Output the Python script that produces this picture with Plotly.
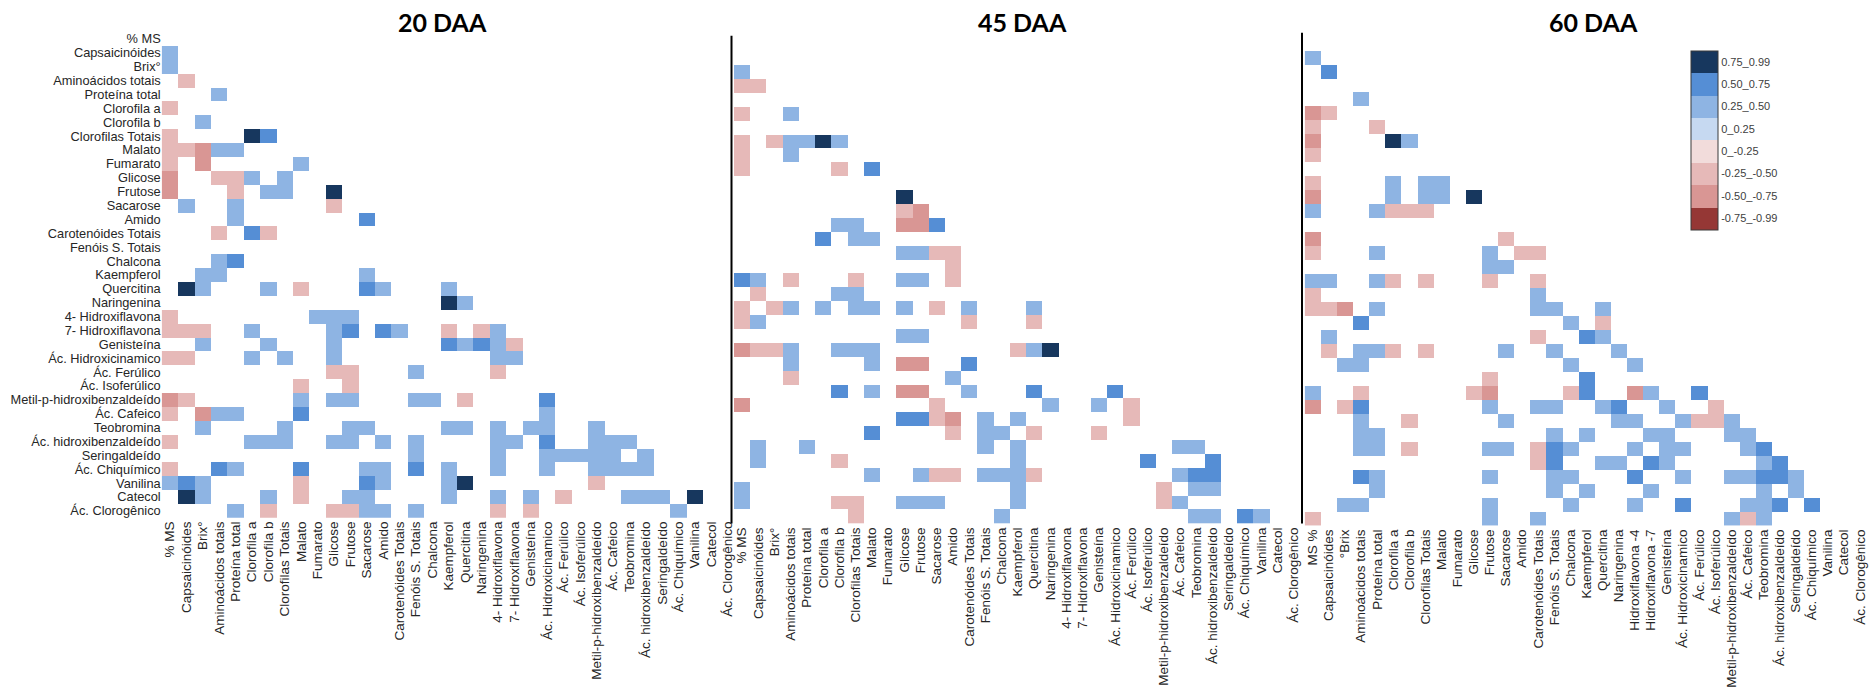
import plotly.graph_objects as go

# ---------------------------------------------------------------------------
# Variables (rows / columns of each lower-triangular correlation matrix)
# ---------------------------------------------------------------------------
variables = [
    "% MS", "Capsaicinóides", "Brix°", "Aminoácidos totais", "Proteína total",
    "Clorofila a", "Clorofila b", "Clorofilas Totais", "Malato", "Fumarato",
    "Glicose", "Frutose", "Sacarose", "Amido", "Carotenóides Totais",
    "Fenóis S. Totais", "Chalcona", "Kaempferol", "Quercitina", "Naringenina",
    "4- Hidroxiflavona", "7- Hidroxiflavona", "Genisteína", "Ác. Hidroxicinamico",
    "Ác. Ferúlico", "Ác. Isoferúlico", "Metil-p-hidroxibenzaldeído", "Ác. Cafeico",
    "Teobromina", "Ác. hidroxibenzaldeído", "Seringaldeído", "Ác. Chiquímico",
    "Vanilina", "Catecol", "Ác. Clorogênico",
]

variables_60 = [
    "MS %", "Capsaicinóides", "°Brix", "Aminoácidos totais", "Proteína total",
    "Clorofila a", "Clorofila b", "Clorofilas Totais", "Malato", "Fumarato",
    "Glicose", "Frutose", "Sacarose", "Amido", "Carotenóides Totais",
    "Fenóis S. Totais", "Chalcona", "Kaempferol", "Quercitina", "Naringenina",
    "Hidroxiflavona -4", "Hidroxiflavona -7", "Genisteína", "Ác. Hidroxicinamico",
    "Ác. Ferúlico", "Ác. Isoferúlico", "Metil-p-hidroxibenzaldeído", "Ác. Cafeico",
    "Teobromina", "Ác. hidroxibenzaldeído", "Seringaldeído", "Ác. Chiquímico",
    "Vanilina", "Catecol", "Ác. Clorogênico",
]

# Correlation class of each cell, row by row: "<column><class>"
#   N 0.75_0.99   B 0.50_0.75   b 0.25_0.50
#   p -0.25_-0.50 P -0.50_-0.75 R -0.75_-0.99
corr_20daa = [
    "", "0b", "0b", "1p", "3b", "0p", "2b", "0p 5N 6B", "0p 1p 2P 3b 4b",
    "0p 2P 8b", "0P 3p 4p 5b 7b", "0P 4p 6b 7b 10N", "1b 4b 10p", "4b 12B",
    "3p 5B 6p", "", "3b 4B", "2b 3b 12b", "1N 2b 6b 8p 12B 13b 17b", "17N 18b",
    "0p 9b 10b 11b", "0p 1p 2p 5b 10b 11B 13B 14b 17p 19p 20b",
    "2b 6b 10b 17B 18b 19B 20b 21p", "0p 1p 5b 7b 10b 20b 21b",
    "10p 11p 15b 20p", "8p 11p", "0P 1p 8b 10b 11b 15b 16b 18p 23B",
    "0p 2P 3b 4b 8B 23b", "2b 7b 11b 12b 17b 18b 20b 22b 23b 26b",
    "0p 5b 6b 7b 10b 11b 13b 15b 20b 21b 23B 26b 27b 28b",
    "15b 20b 23b 24b 25b 26b 27b 29b",
    "0p 3B 4b 8B 12b 13b 15B 17b 20b 23b 26b 27b 28b 29b",
    "0b 1B 2b 8p 12B 13b 17b 18N 26p",
    "1N 2b 6b 8p 11b 12b 17b 20b 22b 24p 28b 29b 30b 32N",
    "4b 6p 10p 11p 12b 13b 15b 20p 22p 31b",
]

corr_45daa = [
    "", "", "0b", "0p 1p", "", "0p 3b", "", "0p 2p 3b 4b 5N 6b", "0p 3b",
    "0p 6p 8B", "", "10N", "10p 11P", "6b 7b 10P 11P 12B", "5B 7b 8b",
    "10b 11b 12p 13p", "13p", "0B 1b 3p 7p 10b 11b 13p", "1p 6b 7b",
    "0p 2p 3b 5b 7b 8b 10b 12p 14b 18b", "0p 1b 14p 18p", "10b 11b",
    "0P 1p 2p 3b 6b 7b 8b 17p 18b 19N", "3b 8b 10P 11P 14B", "3p 13b",
    "6B 8b 10P 11P 14b 18B 23B", "0P 12p 19b 22b 24p",
    "10B 11B 12p 13P 15b 17b 24p", "8B 13p 15b 16b 18p 22p",
    "1b 4b 15b 17b 27b 28b", "1b 6p 17b 25B 29B",
    "8b 11b 12p 13p 15b 16b 17b 18p 27b 28B 29B",
    "0b 17b 26p 28b 29b", "0b 6p 7p 10b 11b 12b 17b 26p 27b",
    "7p 16b 28b 29b 31B 32b",
]

corr_60daa = [
    "", "0b", "1B", "", "3b", "0P 1p", "0p 4p", "0P 5N 6b", "0p", "",
    "0p 5b 7b 8b", "0P 5b 7b 8b 10N", "0b 4b 5p 6p 7p", "", "0P 12p",
    "0p 4b 11b 13p 14p", "11b 12b", "0b 1b 4b 5p 7p 11p 14p", "0p 14b",
    "0p 1p 2P 4b 14b 15b 18b", "3B 16b 18p", "1b 14p 17B 18b",
    "1p 3b 4b 5p 7p 12b 15b 19b", "2b 3b 16b 20b", "11p 17B",
    "0b 3p 10p 11P 16p 17B 20P 21b 24B",
    "0P 2p 3B 11b 14b 15b 18b 19B 22b 25p",
    "3b 6p 12b 19b 20b 23b 24p 25p 26b",
    "3b 4b 15b 17b 21b 22b 26b 27b",
    "3b 4b 6p 11b 12b 14p 15B 16b 20b 22b 23b 27b 28B",
    "14p 15B 18b 19b 21B 22b 28b 29B",
    "3B 4b 11b 15b 16b 20B 23b 26b 27b 28B 29B 30b",
    "4b 15b 17b 21b 28b 30b",
    "2b 3b 11b 16b 20b 23B 27b 28b 29B 31B",
    "0p 11b 14b 26b 27p 28b",
]

panel_titles = ["20 DAA", "45 DAA", "60 DAA"]

class_value = {"N": 0.87, "B": 0.62, "b": 0.37, "p": -0.37, "P": -0.62, "R": -0.87}

legend_vals = [0.875, 0.625, 0.375, 0.125, -0.125, -0.375, -0.625, -0.875]
legend_text = ["0.75_0.99", "0.50_0.75", "0.25_0.50", "0_0.25",
               "0_-0.25", "-0.25_-0.50", "-0.50_-0.75", "-0.75_-0.99"]

# ---------------------------------------------------------------------------
W, H = 1870, 688
n = len(variables)


def to_matrix(rows):
    z = [[None] * n for _ in range(n)]
    for r, spec in enumerate(rows):
        for tok in spec.split():
            z[r][int(tok[:-1])] = class_value[tok[-1]]
    return z


def hx(px):
    return px / W


def vy(px):
    return 1 - px / H


colors = ["#953735", "#D99694", "#E6B9B8", "#F2DCDB",
          "#C6D9F1", "#8EB4E3", "#558ED5", "#17375E"]
colorscale = []
for i, c in enumerate(colors):
    colorscale.append([i / 8, c])
    colorscale.append([(i + 1) / 8, c])

# pixel geometry of each panel: left, cell width, top, cell height
panels = [
    (corr_20daa, variables, 161.7, 16.41, 31.3, 14.0),
    (corr_45daa, variables, 734.0, 16.22, 36.7, 14.02),
    (corr_60daa, variables_60, 1304.7, 16.1, 35.9, 14.1),
]

fig = go.Figure()
layout_axes = {}
idx = list(range(n))
tick_font = dict(family="Arial", size=13.5, color="#262626")

for k, (rows, xlabels, left, cw, top, ch) in enumerate(panels):
    sfx = "" if k == 0 else str(k + 1)
    fig.add_trace(go.Heatmap(
        z=to_matrix(rows), x=idx, y=idx,
        coloraxis="coloraxis",
        xaxis="x" + sfx, yaxis="y" + sfx,
        hoverongaps=False,
    ))
    layout_axes["xaxis" + sfx] = dict(
        domain=[hx(left), min(1.0, hx(left + n * cw))],
        anchor="y" + sfx, range=[-0.5, n - 0.5],
        tickmode="array", tickvals=idx, ticktext=xlabels,
        tickangle=-90, tickfont=tick_font, ticks="",
        showgrid=False, zeroline=False, showline=False,
    )
    layout_axes["yaxis" + sfx] = dict(
        domain=[vy(top + n * ch), vy(top)],
        anchor="x" + sfx, range=[n - 0.5, -0.5],
        tickmode="array", tickvals=idx, ticktext=variables,
        tickfont=dict(family="Arial", size=12.8, color="#262626"),
        showticklabels=(k == 0), ticks="",
        showgrid=False, zeroline=False, showline=False,
    )

fig.update_layout(**layout_axes)

fig.update_layout(
    width=W, height=H,
    margin=dict(l=0, r=0, t=0, b=0),
    paper_bgcolor="white", plot_bgcolor="white",
    font=dict(family="Arial", color="#262626"),
    coloraxis=dict(
        colorscale=colorscale, cmin=-1, cmax=1,
        colorbar=dict(
            x=hx(1691), xanchor="left", y=vy(50), yanchor="top",
            len=179, lenmode="pixels", thickness=27, thicknessmode="pixels",
            xpad=0, ypad=0,
            outlinewidth=1, outlinecolor="#3a3a3a",
            tickmode="array", tickvals=legend_vals, ticktext=legend_text,
            ticks="", tickfont=dict(family="Arial", size=11, color="#404040"),
        ),
    ),
)

# panel titles
for title, xc in zip(panel_titles, [442, 1022, 1593]):
    fig.add_annotation(
        text=f"<b>{title}</b>", x=hx(xc), y=vy(21.5), xref="paper", yref="paper",
        showarrow=False, xanchor="center", yanchor="middle",
        font=dict(family="Lato, Arial", size=25, color="black"),
    )

# separators between panels
for xs, y0, y1 in [(731.5, 35, 527), (1302, 32, 527)]:
    fig.add_shape(type="line", xref="paper", yref="paper",
                  x0=hx(xs), x1=hx(xs), y0=vy(y1), y1=vy(y0),
                  line=dict(color="black", width=2))

fig.write_html("out.html")
